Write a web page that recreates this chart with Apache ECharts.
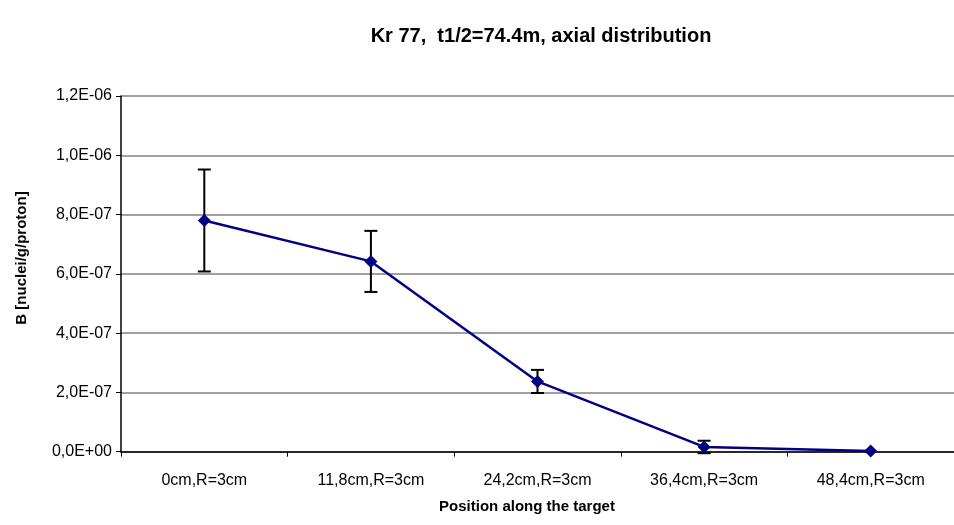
<!DOCTYPE html>
<html><head><meta charset="utf-8">
<script src="https://cdn.jsdelivr.net/npm/echarts@6/dist/echarts.min.js"></script>
<style>html,body{margin:0;padding:0;background:#fff}#c{width:954px;height:525px}</style>
</head><body><div id="c"></div>
<script>
const categories = ['0cm,R=3cm','11,8cm,R=3cm','24,2cm,R=3cm','36,4cm,R=3cm','48,4cm,R=3cm'];
const values = [7.8e-7, 6.42e-7, 2.37e-7, 1.6e-8, 2e-9];
const errors = [1.72e-7, 1.03e-7, 3.9e-8, 2.1e-8, 0];
const yTicks = [0, 2e-7, 4e-7, 6e-7, 8e-7, 1e-6, 1.2e-6];

function fmt(v){
  if (Math.abs(v) < 1e-20) return '0,0E+00';
  const e = Math.floor(Math.log10(Math.abs(v)) + 1e-9);
  const m = v / Math.pow(10, e);
  const es = (e < 0 ? '-' : '+') + String(Math.abs(e)).padStart(2,'0');
  return m.toFixed(1).replace('.', ',') + 'E' + es;
}

const chart = echarts.init(document.getElementById('c'), null, {renderer:'canvas'});
const FONT = 'Liberation Sans, Arial, sans-serif';
chart.setOption({
  animation:false,
  backgroundColor:'#fff',
  title:{text:'Kr 77,  t1/2=74.4m, axial distribution', left:536, top:21, textAlign:'center',
    textStyle:{fontFamily:FONT, fontSize:20, fontWeight:'bold', color:'#000'}},
  grid:{left:121, top:96, width:838.5, height:355.7, containLabel:false},
  xAxis:{type:'category', data:categories, boundaryGap:true,
    axisLine:{lineStyle:{color:'#000', width:1.5}},
    axisTick:{show:true, length:5, lineStyle:{color:'#000'}},
    axisLabel:{fontFamily:FONT, fontSize:16, color:'#000', margin:21}},
  yAxis:{type:'value', min:yTicks[0], max:yTicks[yTicks.length-1], interval:yTicks[1]-yTicks[0],
    axisLine:{show:true, lineStyle:{color:'#000', width:1.5}},
    axisTick:{show:true, length:5, lineStyle:{color:'#000'}},
    splitLine:{lineStyle:{color:'#808080', width:1.5}},
    axisLabel:{fontFamily:FONT, fontSize:16, color:'#000', margin:9, formatter:fmt}},
  graphic:[
    {type:'text', x:22, y:258, rotation:Math.PI/2,
      style:{text:'B [nuclei/g/proton]', font:'bold 15px '+FONT, fill:'#000', align:'center', verticalAlign:'middle'}},
    {type:'text', x:527, y:507,
      style:{text:'Position along the target', font:'bold 15px '+FONT, fill:'#000', align:'center', verticalAlign:'middle'}}
  ],
  series:[
    {type:'line', data:values, symbol:'diamond', symbolSize:13,
      lineStyle:{color:'#000080', width:2.5}, itemStyle:{color:'#000080'}, z:3},
    {type:'custom', z:2,
      data: values.map((v,i)=>[i, v-errors[i], v+errors[i]]),
      renderItem:function(params, api){
        if (api.value(2) - api.value(1) <= 0) return null;
        const lo = api.coord([api.value(0), api.value(1)]);
        const hi = api.coord([api.value(0), api.value(2)]);
        const hw = 6.5;
        const st = {stroke:'#000', lineWidth:2};
        return {type:'group', children:[
          {type:'line', shape:{x1:lo[0], y1:lo[1], x2:hi[0], y2:hi[1]}, style:st},
          {type:'line', shape:{x1:lo[0]-hw, y1:lo[1], x2:lo[0]+hw, y2:lo[1]}, style:st},
          {type:'line', shape:{x1:hi[0]-hw, y1:hi[1], x2:hi[0]+hw, y2:hi[1]}, style:st}
        ]};
      }}
  ]
});
</script></body></html>
